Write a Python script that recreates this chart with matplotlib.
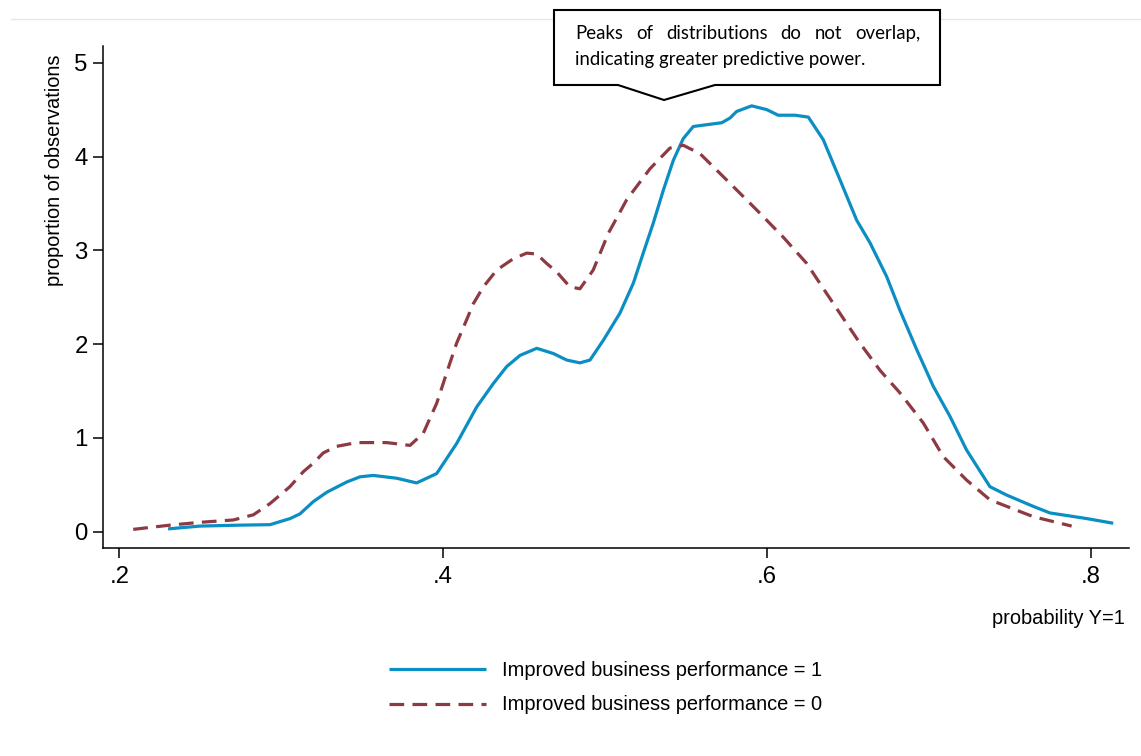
import matplotlib
matplotlib.use("Agg")
import matplotlib.pyplot as plt
from matplotlib.patches import Polygon
from matplotlib.lines import Line2D

# Kernel density of predicted probability, by outcome group
prob_perf1 = [0.2300, 0.2497, 0.2745, 0.2930, 0.3054, 0.3115, 0.3197, 0.3280,
              0.3404, 0.3486, 0.3568, 0.3713, 0.3836, 0.3960, 0.4083, 0.4207,
              0.4310, 0.4392, 0.4475, 0.4578, 0.4680, 0.4763, 0.4845, 0.4907,
              0.4989, 0.5092, 0.5175, 0.5236, 0.5298, 0.5360, 0.5422, 0.5483,
              0.5545, 0.5721, 0.5772, 0.5813, 0.5906, 0.5999, 0.6070, 0.6174,
              0.6256, 0.6348, 0.6452, 0.6555, 0.6637, 0.6740, 0.6822, 0.6926,
              0.7028, 0.7131, 0.7234, 0.7378, 0.7482, 0.7646, 0.7749, 0.7976,
              0.8140]
dens_perf1 = [0.03, 0.06, 0.07, 0.075, 0.14, 0.19, 0.32, 0.42,
              0.53, 0.585, 0.60, 0.57, 0.52, 0.62, 0.94, 1.33,
              1.58, 1.76, 1.88, 1.955, 1.90, 1.83, 1.80, 1.83,
              2.04, 2.33, 2.65, 2.97, 3.29, 3.64, 3.96, 4.19,
              4.32, 4.36, 4.41, 4.48, 4.54, 4.50, 4.44, 4.44,
              4.42, 4.18, 3.75, 3.32, 3.08, 2.72, 2.36, 1.94,
              1.55, 1.23, 0.87, 0.48, 0.39, 0.27, 0.20, 0.14,
              0.09]

prob_perf0 = [0.2085, 0.2312, 0.2497, 0.2703, 0.2827, 0.2930, 0.3053, 0.3136,
              0.3197, 0.3259, 0.3342, 0.3466, 0.3651, 0.3795, 0.3877, 0.3960,
              0.4042, 0.4083, 0.4145, 0.4186, 0.4248, 0.4331, 0.4433, 0.4516,
              0.4578, 0.4639, 0.4701, 0.4783, 0.4845, 0.4927, 0.5020, 0.5134,
              0.5278, 0.5401, 0.5483, 0.5587, 0.5710, 0.5792, 0.5937, 0.6101,
              0.6246, 0.6369, 0.6493, 0.6575, 0.6699, 0.6822, 0.6966, 0.7090,
              0.7234, 0.7378, 0.7482, 0.7646, 0.7883]
dens_perf0 = [0.025, 0.07, 0.10, 0.125, 0.18, 0.30, 0.48, 0.64,
              0.73, 0.84, 0.91, 0.95, 0.95, 0.92, 1.05, 1.37,
              1.80, 2.01, 2.26, 2.43, 2.61, 2.79, 2.91, 2.97,
              2.96, 2.86, 2.77, 2.61, 2.59, 2.79, 3.18, 3.54,
              3.87, 4.09, 4.12, 4.03, 3.82, 3.68, 3.43, 3.14,
              2.86, 2.54, 2.22, 2.01, 1.72, 1.48, 1.16, 0.80,
              0.55, 0.34, 0.27, 0.16, 0.06]

x_ticks = [0.2, 0.4, 0.6, 0.8]
x_tick_labels = [".2", ".4", ".6", ".8"]
y_ticks = [0, 1, 2, 3, 4, 5]
y_tick_labels = ["0", "1", "2", "3", "4", "5"]
series_labels = ["Improved business performance = 1",
                 "Improved business performance = 0"]
note_line1 = ["Peaks", "of", "distributions", "do", "not", "overlap,"]
note_line2 = "indicating greater predictive power."

BLUE = "#0b8ec3"
RED = "#8e3a43"
W, H = 1141, 756

plt.rcParams["font.family"] = ["Liberation Sans", "DejaVu Sans"]
fig = plt.figure(figsize=(W / 100, H / 100), dpi=100)
fig.patch.set_facecolor("white")


def fx(px):
    return px / W


def fy(py):
    return 1 - py / H


ax = fig.add_axes([fx(103), fy(547.5), fx(1129) - fx(103), fy(46.5) - fy(547.5)])
ax.set_facecolor("white")

ax.plot(prob_perf1, dens_perf1, color=BLUE, lw=2.3, solid_joinstyle="round",
        solid_capstyle="butt", label=series_labels[0])
ax.plot(prob_perf0, dens_perf0, color=RED, lw=2.3, dashes=(4.6, 2.6),
        dash_capstyle="butt", dash_joinstyle="round", label=series_labels[1])

ax.set_xlim(0.18981, 0.82373)
ax.set_ylim(-0.1684, 5.1727)
ax.set_xticks(x_ticks)
ax.set_xticklabels(x_tick_labels)
ax.set_yticks(y_ticks)
ax.set_yticklabels(y_tick_labels)

for s in ("top", "right"):
    ax.spines[s].set_visible(False)
for s in ("left", "bottom"):
    ax.spines[s].set_linewidth(1.1)
    ax.spines[s].set_color("black")

ax.tick_params(axis="both", direction="out", length=7.5, width=1.1,
               labelsize=17.3, colors="black")
ax.tick_params(axis="y", pad=3.5)
ax.tick_params(axis="x", pad=6)

fig.text(fx(55), fy(170), "proportion of observations", fontsize=14.4,
         rotation=90, ha="center", va="center")
fig.text(fx(1125), fy(618), "probability Y=1", fontsize=14.4,
         ha="right", va="center")

leg = fig.legend(handles=ax.get_lines(), labels=series_labels,
                 loc="center", bbox_to_anchor=(fx(605.5), fy(687.5)),
                 frameon=False, fontsize=14.4, handlelength=4.85,
                 handletextpad=0.8, labelspacing=0.8, borderpad=0)

# faint rule across the top of the graph region
fig.add_artist(Line2D([fx(11), fx(1141)], [fy(19), fy(19)],
                      color="#e6e6e6", lw=0.9))

# callout box with pointer
box = [(554, 10), (940, 10), (940, 85), (715, 85), (664, 100), (618, 85), (554, 85)]
fig.add_artist(Polygon([(fx(x), fy(y)) for x, y in box], closed=True,
                       facecolor="white", edgecolor="black", lw=1.5,
                       joinstyle="miter", zorder=5))

# text inside the callout, first line justified
renderer = fig.canvas.get_renderer()
note_font = ["Lato", "DejaVu Sans"]
probe = fig.text(0, 0, note_line2, fontsize=12, family=note_font)
wpx = probe.get_window_extent(renderer).width
probe.remove()
note_size = 12 * 290.0 / wpx

fig.text(fx(575), fy(65), note_line2, fontsize=note_size, family=note_font,
         ha="left", va="baseline", zorder=6)

widths = []
for w in note_line1:
    t = fig.text(0, 0, w, fontsize=note_size, family=note_font)
    widths.append(t.get_window_extent(renderer).width)
    t.remove()
left, right = 575.0, 920.0
gap = (right - left - sum(widths)) / (len(note_line1) - 1)
xpos = left
for w, wd in zip(note_line1, widths):
    fig.text(fx(xpos), fy(39), w, fontsize=note_size, family=note_font,
             ha="left", va="baseline", zorder=6)
    xpos += wd + gap

fig.savefig("out.png", dpi=100, facecolor="white")
